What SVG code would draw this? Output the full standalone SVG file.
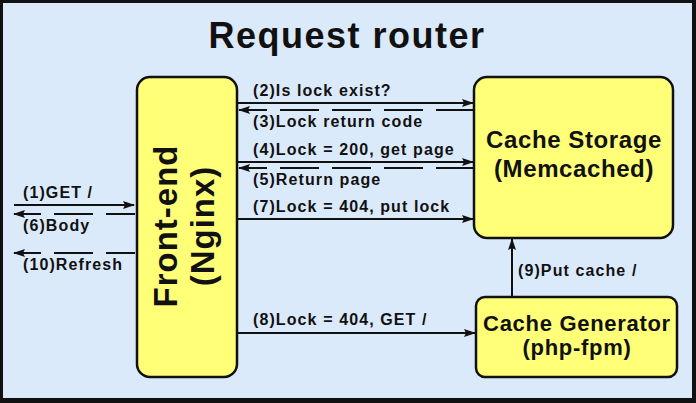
<svg xmlns="http://www.w3.org/2000/svg" width="696" height="403" viewBox="0 0 696 403">
<defs>
<style>
.lbl{font-family:"Liberation Sans",Arial,sans-serif;font-weight:bold;font-size:16px;letter-spacing:1.1px;fill:#111}
.node{fill:#ffff78;stroke:#111;stroke-width:2.5}
.ntx{font-family:"Liberation Sans",Arial,sans-serif;font-weight:bold;fill:#111;text-anchor:middle}
.ln{stroke:#111;stroke-width:2;fill:none}
.dash{stroke-dasharray:39 13}
</style>
<marker id="ah" viewBox="0 0 12 8" refX="11" refY="4" markerWidth="12" markerHeight="8" markerUnits="userSpaceOnUse" orient="auto">
<path d="M0,0 L12,4 L0,8 L2,4 Z" fill="#111"/>
</marker>
</defs>
<rect x="0" y="0" width="696" height="403" fill="#111"/>
<rect x="3" y="3" width="689" height="395" fill="#dbeafa"/>
<text x="347" y="48" class="ntx" style="font-size:36px;letter-spacing:1.5px">Request router</text>

<g id="frontend">
<rect class="node" x="137" y="77" width="100" height="300" rx="13"/>
<text class="ntx" transform="translate(177,226) rotate(-90)" style="font-size:33px;letter-spacing:1px">Front-end</text>
<text class="ntx" transform="translate(214,226) rotate(-90)" style="font-size:33px;letter-spacing:1px">(Nginx)</text>
</g>
<g id="storage">
<rect class="node" x="474" y="77" width="199" height="161" rx="13"/>
<text class="ntx" x="574" y="148" style="font-size:24px;letter-spacing:0.6px">Cache Storage</text>
<text class="ntx" x="574" y="177" style="font-size:24px;letter-spacing:0.6px">(Memcached)</text>
</g>
<g id="generator">
<rect class="node" x="476" y="297" width="201" height="80" rx="9"/>
<text class="ntx" x="577" y="331" style="font-size:22px;letter-spacing:0.7px">Cache Generator</text>
<text class="ntx" x="577" y="355" style="font-size:22px;letter-spacing:0.7px">(php-fpm)</text>
</g>

<g id="connectors">
<path class="ln" d="M14,205 H134" marker-end="url(#ah)"/>
<path class="ln dash" d="M135,214 H14" style="stroke-dashoffset:10" marker-end="url(#ah)"/>
<path class="ln dash" d="M135,253 H14" style="stroke-dashoffset:10" marker-end="url(#ah)"/>
<path class="ln" d="M238,103 H473" marker-end="url(#ah)"/>
<path class="ln dash" d="M475,110 H239" marker-end="url(#ah)"/>
<path class="ln" d="M238,162 H473" marker-end="url(#ah)"/>
<path class="ln dash" d="M475,168 H239" marker-end="url(#ah)"/>
<path class="ln" d="M238,219 H473" marker-end="url(#ah)"/>
<path class="ln" d="M238,333 H475" marker-end="url(#ah)"/>
<path class="ln" d="M512,297 V239" marker-end="url(#ah)"/>
</g>

<g id="labels">
<text class="lbl" x="23" y="198">(1)GET /</text>
<text class="lbl" x="23" y="231">(6)Body</text>
<text class="lbl" x="23" y="270">(10)Refresh</text>
<text class="lbl" x="253" y="96">(2)Is lock exist?</text>
<text class="lbl" x="253" y="127">(3)Lock return code</text>
<text class="lbl" x="253" y="155">(4)Lock = 200, get page</text>
<text class="lbl" x="253" y="185">(5)Return page</text>
<text class="lbl" x="253" y="212">(7)Lock = 404, put lock</text>
<text class="lbl" x="253" y="325">(8)Lock = 404, GET /</text>
<text class="lbl" x="518" y="276">(9)Put cache /</text>
</g>
</svg>
